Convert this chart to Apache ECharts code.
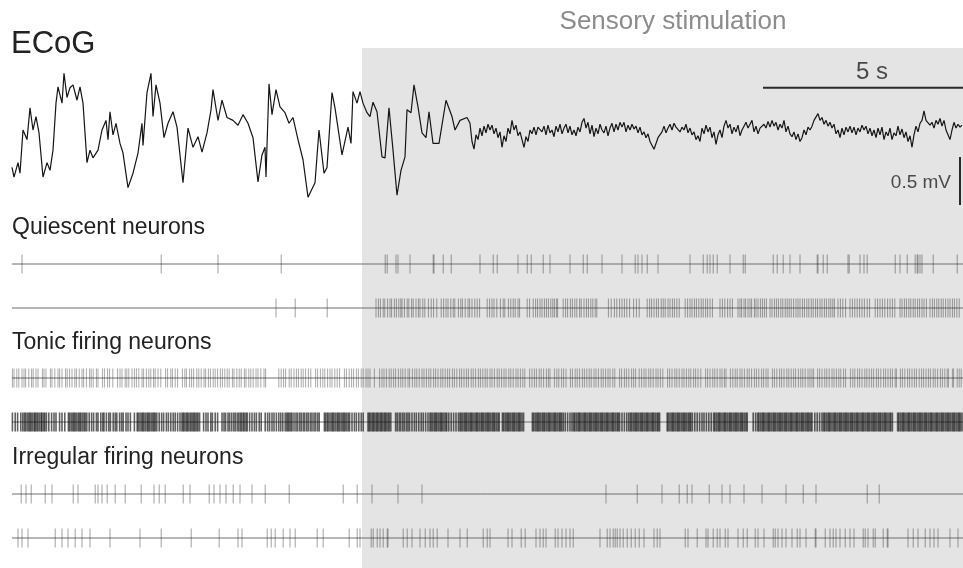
<!DOCTYPE html>
<html><head><meta charset="utf-8">
<script src="https://cdn.jsdelivr.net/npm/echarts@6/dist/echarts.min.js"></script>
<style>html,body{margin:0;padding:0;background:#fff}#c{width:963px;height:568px}</style>
</head><body><div id="c"></div>
<script>
// ---------- DATA ----------
const timeMax = 24.075;          // s, right edge of the recording window
const traceStart = 0.30;         // s, start of raster baselines
const stimOnset = 9.05;          // s, start of sensory stimulation
const scaleBarSeconds = 5;
const scaleBarMillivolts = 0.5;
const groupNames = ['Quiescent neurons', 'Tonic firing neurons', 'Irregular firing neurons'];

// ECoG (time s, mV) – slow-wave part
const ecogSlow = [
[0.30,-0.39],[0.35,-0.49],[0.45,-0.34],[0.50,-0.45],[0.575,0],[0.675,-0.10],[0.75,0.23],[0.825,0],[0.90,0.14],[0.975,-0.03],
[1.075,-0.49],[1.175,-0.34],[1.25,-0.42],[1.325,-0.21],[1.40,0.28],[1.45,0.45],[1.55,0.28],[1.60,0.59],[1.675,0.34],[1.75,0.44],
[1.825,0.47],[1.925,0.31],[2.00,0.45],[2.075,0.28],[2.175,-0.34],[2.25,-0.21],[2.325,-0.29],[2.45,-0.21],[2.55,0],[2.65,0.10],
[2.70,-0.10],[2.75,0.19],[2.825,-0.05],[2.90,0.07],[3.00,-0.14],[3.075,-0.24],[3.20,-0.60],[3.325,-0.45],[3.45,-0.24],[3.55,0.07],
[3.575,-0.16],[3.675,0.39],[3.775,0.59],[3.825,0.14],[3.90,0.47],[4.00,0.28],[4.10,-0.08],[4.20,0.07],[4.325,0.19],[4.425,0.03],
[4.575,-0.55],[4.70,0.02],[4.825,-0.18],[4.95,-0.07],[5.05,-0.23],[5.175,-0.03],[5.275,0.21],[5.325,0.42],[5.45,0.10],[5.55,0.31],
[5.675,0.13],[5.825,0.10],[5.95,0.05],[6.075,0.16],[6.20,0.07],[6.325,-0.08],[6.45,-0.54],[6.55,-0.26],[6.625,-0.18],[6.65,-0.49],
[6.725,0.48],[6.80,0.16],[6.90,0.42],[7.00,0.24],[7.125,0.18],[7.225,0.07],[7.325,0.13],[7.45,-0.10],[7.575,-0.31],[7.70,-0.70],
[7.875,-0.55],[7.975,0],[8.10,-0.45],[8.175,-0.39],[8.30,0.39],[8.375,0.23],[8.55,-0.26],[8.70,0.03],[8.775,-0.14],[8.825,0.40],
[8.925,0.28],[9.00,0.40],[9.075,0.28],[9.175,0.18],[9.25,0.14],[9.325,0.29],[9.425,0.19],[9.55,-0.28],[9.625,-0.29],[9.725,0.23],
[9.825,-0.21],[9.925,-0.68],[10.025,-0.42],[10.125,-0.28],[10.175,0.21],[10.275,0.18],[10.35,0.47],[10.45,0.24],[10.55,-0.03],[10.65,-0.08],
[10.725,0.19],[10.825,-0.14],[10.975,-0.14],[11.15,0.31],[11.30,0.14],[11.375,0],[11.50,0.10],[11.675,0.13],[11.75,0.07]
];
// ECoG desynchronised part: sampled every 0.05 s from 11.80 s (mV)
const ecogFastStart = 11.80;
const ecogFastStep = 0.05;
const ecogFast = [
-0.12,-0.20,-0.05,-0.10,0.02,-0.06,0.04,-0.03,0.06,0.00,
0.05,-0.04,0.02,-0.08,-0.02,-0.18,-0.06,-0.12,0.02,-0.04,
0.10,0.00,0.05,-0.06,-0.02,-0.10,-0.18,-0.07,-0.12,0.00,
-0.04,0.03,-0.05,0.03,0.05,-0.02,0.04,-0.05,0.05,-0.03,
0.00,-0.07,0.04,-0.02,0.06,-0.04,0.02,0.06,-0.03,0.04,
-0.05,0.00,-0.06,0.03,-0.02,0.08,0.12,0.02,0.08,-0.04,
0.05,-0.07,0.02,-0.04,0.06,0.00,-0.03,0.04,-0.06,0.02,
0.07,-0.02,0.06,0.00,0.08,0.03,0.08,-0.02,0.05,0.00,
0.06,0.01,0.04,-0.03,0.03,-0.05,-0.02,-0.08,-0.04,-0.12,
-0.10,-0.20,-0.14,-0.08,-0.10,-0.02,0.04,-0.03,0.02,0.06,
0.00,0.07,0.03,0.05,-0.02,0.03,0.00,0.06,-0.03,0.02,
-0.05,-0.02,-0.10,-0.06,-0.12,0.02,-0.04,0.05,-0.02,0.03,
-0.08,-0.02,-0.15,-0.05,0.00,-0.08,0.04,0.10,0.02,0.06,
-0.04,0.03,-0.02,0.05,-0.06,0.00,0.04,0.08,0.02,0.06,
0.10,-0.02,0.04,-0.04,0.02,0.00,0.06,0.02,0.09,0.03,
0.10,0.04,0.08,0.00,0.06,0.02,0.10,-0.02,0.04,-0.04,
-0.07,-0.02,-0.10,-0.04,-0.12,-0.08,0.00,-0.05,0.03,0.00,
0.04,0.10,0.08,0.17,0.10,0.13,0.06,0.10,0.04,0.08,
0.02,0.06,-0.04,0.00,-0.08,0.02,-0.05,0.03,-0.02,0.04,
-0.03,0.03,-0.05,0.02,-0.02,0.05,0.00,0.04,-0.04,0.02,
-0.06,0.00,-0.08,0.02,-0.05,0.03,-0.10,-0.02,-0.06,0.02,
-0.10,-0.03,-0.06,0.04,-0.05,0.01,-0.08,-0.02,-0.12,-0.06,
-0.18,-0.05,0.04,-0.02,0.07,0.10,0.20,0.10,0.12,0.05,
0.08,0.02,0.10,0.06,0.12,0.04,0.10,0.00,-0.05,-0.10,
0.00,0.08,0.02,0.06,0.03,0.05
];

// Spike times (s)
const quiescent1 = [0.55,4.03,5.45,7.03,9.63,9.68,9.90,9.95,10.25,10.83,10.85,11.08,11.28,12.00,12.33,12.43,12.95,13.18,13.28,13.58,13.75,14.25,14.58,14.68,15.05,15.55,15.88,15.95,16.05,16.18,16.45,17.25,17.58,17.68,17.75,17.83,17.93,18.25,18.58,18.63,19.33,19.43,19.58,19.75,20.00,20.43,20.45,20.58,20.68,21.20,21.23,21.50,21.60,21.68,22.38,22.50,22.68,22.88,22.93,22.95,23.00,23.05,23.33,23.93];
const quiescent2 = [6.90,7.38,8.18,
9.40,9.46,9.51,9.58,9.62,9.69,9.75,9.79,9.86,9.91,9.97,10.02,10.05,10.11,10.18,10.22,10.29,10.33,10.40,10.46,10.50,10.57,10.62,
10.71,10.78,10.84,10.92,11.03,11.09,11.15,11.20,11.27,11.33,11.37,11.46,11.52,11.56,11.63,11.70,11.74,11.80,11.87,11.93,11.99,
12.18,12.24,12.30,12.35,12.42,12.51,12.58,12.62,12.71,12.77,12.83,12.88,12.95,12.99,13.18,13.24,
13.33,13.39,13.44,13.50,13.55,13.61,13.66,13.71,13.77,13.82,13.86,13.91,13.94,
14.08,14.14,14.19,14.26,14.31,14.37,14.42,14.49,14.53,14.60,14.66,14.71,14.77,14.82,14.88,14.92,
15.21,15.28,15.36,15.42,15.49,15.55,15.61,15.67,15.74,15.84,15.91,15.98,
16.18,16.24,16.29,16.35,16.41,16.46,16.53,16.58,16.63,16.70,16.75,16.81,16.86,16.92,16.98,
17.13,17.19,17.25,17.30,17.36,17.41,17.47,17.53,17.58,17.64,17.69,17.75,17.81,
18.00,18.06,18.12,18.19,18.25,18.31,
18.45,18.50,18.54,18.60,18.64,18.70,18.75,18.79,18.86,18.90,18.95,19.01,19.06,19.11,19.16,
19.25,19.30,19.36,19.41,19.46,19.52,19.57,19.63,19.68,19.73,19.78,19.84,19.90,19.95,20.00,20.06,20.11,20.17,20.22,20.28,20.33,20.39,20.44,20.50,20.55,20.61,20.66,20.72,20.77,20.82,20.86,
20.95,21.01,21.07,21.14,21.25,21.31,21.37,21.43,21.49,21.55,21.61,21.68,21.74,
21.88,21.94,22.00,22.06,22.12,22.19,22.25,22.31,22.37,
22.50,22.55,22.61,22.66,22.72,22.77,22.83,22.88,22.94,22.99,23.05,23.10,23.16,
23.25,23.31,23.36,23.42,23.47,23.53,23.58,23.64,23.70,23.75,23.81,23.86,23.92,23.98];
const tonic1 = [0.31,0.35,0.42,0.47,0.55,0.60,0.64,0.72,0.79,0.83,0.90,0.95,1.06,1.10,1.15,1.26,1.30,1.37,1.45,1.49,1.55,1.64,1.68,1.74,1.80,1.87,1.91,1.98,2.05,2.09,2.16,2.24,2.28,2.33,2.41,2.45,
2.56,2.61,2.69,2.74,2.82,2.94,3.00,3.05,3.13,3.17,3.22,3.30,3.36,3.41,3.47,3.55,3.59,3.66,3.72,3.77,3.84,3.88,3.95,4.02,4.14,4.19,4.27,4.31,4.38,4.44,
4.56,4.62,4.66,4.74,4.79,4.84,4.92,4.97,5.03,5.10,5.14,5.21,5.26,5.33,5.38,5.44,5.51,5.56,5.62,5.68,5.73,5.81,5.85,5.92,5.98,6.03,6.11,6.15,6.22,6.27,6.33,6.40,6.45,6.52,6.60,6.64,
6.97,7.03,7.09,7.14,7.23,7.28,7.35,7.41,7.46,7.53,7.58,7.64,7.71,7.77,7.89,7.94,8.01,8.07,8.12,8.19,8.25,8.30,8.37,8.43,8.49,
8.61,8.66,8.73,8.79,8.84,8.91,8.96,9.03,9.08,9.15,9.20,9.25,9.36,
9.49,9.55,9.60,9.66,9.73,9.78,9.84,9.89,9.96,10.02,10.07,10.13,10.20,10.24,10.31,10.37,10.42,10.48,10.55,10.60,10.66,10.72,10.77,10.84,10.89,10.95,11.02,11.07,11.13,11.19,11.24,11.31,11.36,11.42,11.49,11.54,11.60,11.66,11.71,11.78,11.83,11.89,11.96,12.01,12.07,12.13,12.18,12.25,12.30,12.36,12.43,12.48,12.54,12.60,12.65,12.72,12.77,12.83,12.90,12.95,13.01,13.07,13.12,
13.24,13.30,13.36,13.41,13.48,13.53,13.59,13.66,13.71,13.75,13.86,13.92,13.97,14.04,14.09,14.15,
14.26,14.31,14.38,14.43,14.49,14.56,14.61,14.67,14.73,14.78,14.85,14.90,14.96,15.03,15.08,15.14,15.20,15.25,15.32,15.37,
15.49,15.54,15.61,15.66,15.72,15.79,15.84,15.89,15.98,16.04,16.10,16.15,16.22,16.27,16.33,16.40,16.45,16.51,16.57,
16.69,16.74,16.80,16.87,16.92,16.98,17.05,17.10,17.16,17.22,17.27,17.34,17.39,17.45,17.52,17.64,17.69,17.75,17.82,17.87,17.93,18.00,18.05,18.11,18.15,
18.26,18.32,18.38,18.43,18.50,18.55,18.61,18.68,18.73,18.79,18.86,18.91,18.97,19.04,19.09,19.15,19.20,
19.31,19.36,19.42,19.49,19.54,19.60,19.67,19.72,19.78,19.84,19.89,19.96,20.02,20.07,20.13,20.20,20.25,20.30,20.34,
20.44,20.49,20.55,20.62,20.67,20.73,20.80,20.85,20.91,20.97,21.02,21.09,21.14,
21.26,21.32,21.37,21.44,21.49,21.55,21.62,21.67,21.73,21.79,21.84,21.91,21.96,22.02,22.09,22.14,22.20,22.26,22.31,22.38,22.41,
22.51,22.56,22.62,22.69,22.74,22.80,22.86,22.91,22.98,23.04,23.09,23.15,23.21,23.26,23.33,23.38,23.44,23.51,23.56,23.62,23.68,23.71,23.81,23.84,23.93,23.98,24.03];
const tonic2 = [0.31,0.38,0.44,0.52,0.57,
0.61,0.64,0.68,0.72,0.75,0.78,0.82,0.86,0.88,0.92,0.95,0.99,1.03,1.05,1.09,1.12,1.16,
1.22,1.29,1.35,1.40,1.49,1.55,1.62,
1.71,1.74,1.78,1.82,1.85,1.88,1.92,1.96,1.99,2.02,2.06,2.10,2.13,2.17,
2.23,2.29,2.34,2.41,2.45,2.52,2.57,2.60,2.66,2.72,2.76,2.83,2.88,2.92,2.99,3.04,3.08,3.15,3.20,3.26,3.36,
3.43,3.46,3.50,3.54,3.57,3.60,3.64,3.68,3.71,3.74,3.78,3.82,3.85,3.88,3.92,
3.98,4.04,4.09,4.16,4.21,4.27,4.33,4.38,4.44,4.50,
4.55,4.58,4.61,4.65,4.68,4.71,4.75,4.78,4.82,4.85,4.88,4.92,4.95,4.99,
5.09,5.15,5.20,5.27,5.31,5.38,5.44,
5.55,5.60,5.64,5.70,5.74,5.79,5.84,5.88,5.93,5.97,6.01,6.04,6.08,6.11,6.15,6.18,
6.24,6.30,6.36,6.41,6.48,6.53,
6.63,6.69,6.74,6.80,6.85,6.91,6.97,7.02,7.07,7.13,7.17,7.20,7.23,7.27,7.30,
7.35,7.40,7.44,7.49,7.53,7.58,7.62,7.67,7.71,7.76,7.80,7.85,7.89,7.94,7.98,
8.11,8.14,8.18,8.21,8.25,8.29,8.32,8.35,8.39,8.43,8.46,8.49,8.53,8.57,8.60,8.63,8.67,8.71,8.74,
8.80,8.86,8.91,8.97,9.03,9.08,
9.20,9.23,9.26,9.30,9.33,9.36,9.40,9.43,9.46,9.50,9.53,9.56,9.60,9.63,9.66,9.70,9.73,9.77,
9.89,9.93,9.98,10.02,10.07,10.11,10.16,10.20,10.24,
10.30,10.36,10.41,10.47,10.53,10.58,10.64,10.70,
10.75,10.78,10.82,10.86,10.89,10.92,10.96,11.00,11.03,11.06,11.10,11.14,11.17,
11.22,11.28,11.34,11.40,11.46,
11.50,11.53,11.57,11.61,11.64,11.67,11.71,11.75,11.78,11.81,11.85,11.89,11.92,11.95,11.99,12.03,12.06,12.09,12.13,12.17,12.20,12.23,12.27,12.31,12.34,12.37,12.41,12.45,12.48,
12.56,12.59,12.63,12.67,12.70,12.73,12.77,12.81,12.84,12.87,12.91,12.95,12.98,13.01,13.05,13.09,
13.31,13.34,13.38,13.42,13.45,13.48,13.52,13.56,13.59,13.62,13.66,13.70,13.73,13.76,13.80,13.84,13.87,13.90,13.94,13.98,14.01,14.04,14.08,
14.13,14.19,14.25,14.30,
14.34,14.37,14.41,14.45,14.48,14.51,14.55,14.59,14.62,14.65,14.69,14.73,14.76,14.79,14.83,14.87,14.90,14.93,14.97,15.01,15.04,15.07,15.11,15.15,15.18,15.21,15.25,15.29,15.32,15.35,15.39,15.43,15.46,15.49,
15.55,15.61,15.67,15.72,
15.76,15.79,15.83,15.87,15.90,15.93,15.97,16.01,16.04,16.07,16.11,16.15,16.18,16.21,16.25,16.29,16.32,16.35,16.39,16.43,16.46,16.49,
16.68,16.71,16.75,16.79,16.82,16.85,16.89,16.93,16.96,16.99,17.03,17.07,17.10,17.13,17.17,17.21,17.24,17.27,17.31,
17.37,17.43,17.49,17.55,17.60,17.66,17.72,17.78,
17.84,17.87,17.91,17.95,17.98,18.01,18.05,18.09,18.12,18.15,18.19,18.23,18.26,18.29,18.33,18.37,18.40,18.43,18.47,18.51,18.54,18.57,18.61,18.65,18.68,
18.83,18.89,
18.94,18.97,19.01,19.05,19.08,19.11,19.15,19.19,19.22,19.25,19.29,19.33,19.36,19.39,19.43,19.47,19.50,19.53,19.57,19.61,19.64,19.67,19.71,19.75,19.78,19.81,19.85,19.89,19.92,19.95,19.99,20.03,20.06,20.09,20.13,20.17,20.20,20.23,20.27,20.30,
20.37,20.43,20.49,20.55,
20.59,20.62,20.66,20.70,20.73,20.76,20.80,20.84,20.87,20.90,20.94,20.98,21.01,21.04,21.08,21.12,21.15,21.18,21.22,21.26,21.29,21.32,21.36,21.40,21.43,21.46,21.50,21.54,21.57,21.60,21.64,21.68,21.71,21.74,21.78,21.82,21.85,21.88,21.92,21.96,21.99,22.02,22.06,22.10,22.13,22.16,22.20,22.24,22.27,22.31,
22.44,22.47,22.51,22.55,22.58,22.61,22.65,22.69,22.72,22.75,22.79,22.83,22.86,22.89,22.93,22.97,23.00,23.03,23.07,23.11,23.14,23.17,23.21,23.25,23.28,23.31,23.35,23.39,23.42,23.45,23.49,23.53,23.56,23.59,23.63,23.67,23.70,23.73,23.77,23.81,23.84,23.87,23.91,23.95,23.98,24.01,24.05];
const irregular1 = [0.53,0.65,0.78,1.13,1.30,1.83,1.95,2.38,2.45,2.55,2.68,2.88,3.13,3.53,3.85,3.98,4.13,4.58,4.75,5.23,5.35,5.50,5.65,5.83,6.00,6.30,6.63,7.23,8.58,8.93,9.30,9.95,10.55,15.15,15.93,16.55,16.98,17.18,17.30,17.73,18.05,18.25,18.60,19.05,19.65,20.08,20.40,21.68,21.98];
const irregular2 = [0.45,0.55,0.70,1.38,1.55,1.70,1.88,2.05,2.25,2.75,3.50,4.03,4.78,5.48,5.95,6.05,6.68,6.78,6.88,7.08,7.25,7.38,7.93,8.08,8.73,8.93,9.00,9.28,9.33,9.43,9.50,9.58,9.68,9.70,10.08,10.18,10.30,10.50,10.63,10.75,10.83,10.93,11.20,11.50,11.68,
12.08,12.18,12.25,12.70,12.80,13.03,13.13,13.40,13.50,13.58,13.65,13.88,13.95,14.05,14.15,14.25,14.33,15.00,15.18,15.25,15.33,15.38,15.43,15.50,15.58,15.68,15.78,15.88,15.98,16.10,16.35,16.43,16.50,17.13,17.20,17.43,17.65,17.70,17.83,17.93,18.00,18.13,18.20,18.45,18.58,18.68,18.88,18.95,19.10,19.33,19.38,19.45,19.55,19.65,19.80,19.93,20.00,20.15,20.38,20.40,20.63,20.75,20.83,20.90,21.00,21.13,21.25,21.35,21.58,21.63,21.70,21.83,21.88,22.08,22.18,22.20,22.70,22.83,22.95,23.13,23.25,23.35,23.45,23.75,23.95];

const rasterGroups = [[quiescent1, quiescent2], [tonic1, tonic2], [irregular1, irregular2]];

// ---------- CHART ----------
const FONT = '"Liberation Sans", Arial, Helvetica, sans-serif';
const chart = echarts.init(document.getElementById('c'), null, {renderer: 'canvas'});

const grids = [{left: 0, right: 0, top: 34, height: 192}];
const rasterTops = [242, 356, 472];
rasterTops.forEach(t => grids.push({left: 0, right: 0, top: t, height: 88}));

const xAxes = grids.map((g, i) => ({gridIndex: i, type: 'value', min: 0, max: timeMax, show: false}));
const yAxes = [{gridIndex: 0, type: 'value', min: -1, max: 1, show: false}];
for (let i = 1; i <= 3; i++) yAxes.push({gridIndex: i, type: 'category', data: ['a', 'b'], inverse: true, show: false});

const ecogData = ecogSlow.concat(ecogFast.map((v, i) => [ecogFastStart + i * ecogFastStep, v]));

const series = [
  {type: 'line', xAxisIndex: 0, yAxisIndex: 0, data: ecogData, showSymbol: false, symbol: 'none',
   lineStyle: {color: '#151515', width: 1.2}, z: 5, animation: false},
];
// scale bars
const hbarY = 0.44, vbarX = 24.0, vbarTop = -0.28;
series.push({type: 'line', xAxisIndex: 0, yAxisIndex: 0, symbol: 'none', clip: false,
  data: [[timeMax - scaleBarSeconds, hbarY], [timeMax, hbarY]], lineStyle: {color: '#2a2a2a', width: 2}, z: 6});
series.push({type: 'line', xAxisIndex: 0, yAxisIndex: 0, symbol: 'none', clip: false,
  data: [[vbarX, vbarTop], [vbarX, vbarTop - scaleBarMillivolts]], lineStyle: {color: '#2a2a2a', width: 2}, z: 6});
series.push({type: 'scatter', xAxisIndex: 0, yAxisIndex: 0, symbolSize: 0, z: 6,
  data: [{value: [timeMax - scaleBarSeconds / 2, hbarY], label: {show: true, position: 'top', distance: 3, offset: [9, 0], formatter: scaleBarSeconds + ' s', fontSize: 24, color: '#222', fontFamily: FONT}},
         {value: [vbarX, vbarTop - scaleBarMillivolts / 2], label: {show: true, position: 'left', distance: 9, offset: [0, 2], formatter: scaleBarMillivolts + ' mV', fontSize: 19, color: '#222', fontFamily: FONT}}]});

const tickColors = [['rgba(40,40,40,0.55)', 'rgba(40,40,40,0.55)'], ['rgba(40,40,40,0.5)', 'rgba(10,10,10,0.8)'], ['rgba(40,40,40,0.55)', 'rgba(40,40,40,0.55)']];
const tickWidths = [[1, 1], [1, 1.6], [1, 1]];
rasterGroups.forEach((rows, gi) => {
  rows.forEach((spikes, ri) => {
    series.push({type: 'line', xAxisIndex: gi + 1, yAxisIndex: gi + 1, symbol: 'none',
      data: [[traceStart, ri], [timeMax, ri]], lineStyle: {color: '#6e6e6e', width: 1}, z: 3});
    series.push({type: 'scatter', xAxisIndex: gi + 1, yAxisIndex: gi + 1, symbol: 'rect', symbolSize: [tickWidths[gi][ri], 19],
      data: spikes.map(t => [t, ri]), itemStyle: {color: tickColors[gi][ri]}, z: 4, silent: true});
  });
});

const labelY = [228, 343, 458];
const graphics = [
  {type: 'text', x: 11, y: 44, style: {text: 'ECoG', font: '31px ' + FONT, fill: '#222', textAlign: 'left', textVerticalAlign: 'middle', align: 'left', verticalAlign: 'middle'}},
  {type: 'text', x: 673, y: 22, style: {text: 'Sensory stimulation', font: '26px ' + FONT, fill: '#8c8c8c', textAlign: 'center', textVerticalAlign: 'middle', align: 'center', verticalAlign: 'middle'}},
];
groupNames.forEach((n, i) => graphics.push({type: 'text', x: 12, y: labelY[i],
  style: {text: n, font: '23px ' + FONT, fill: '#222', textAlign: 'left', textVerticalAlign: 'middle', align: 'left', verticalAlign: 'middle'}}));

chart.setOption({animation: false, backgroundColor: '#fff', grid: grids, xAxis: xAxes, yAxis: yAxes, series: series, graphic: {elements: graphics}});

const x0 = chart.convertToPixel({xAxisIndex: 0}, stimOnset);
const x1 = chart.convertToPixel({xAxisIndex: 0}, timeMax);
chart.setOption({graphic: {elements: graphics.concat([
  {type: 'rect', id: 'shade', z: -10, silent: true, shape: {x: x0, y: 48, width: x1 - x0, height: 520}, style: {fill: '#e4e4e4'}}
])}});
</script></body></html>
